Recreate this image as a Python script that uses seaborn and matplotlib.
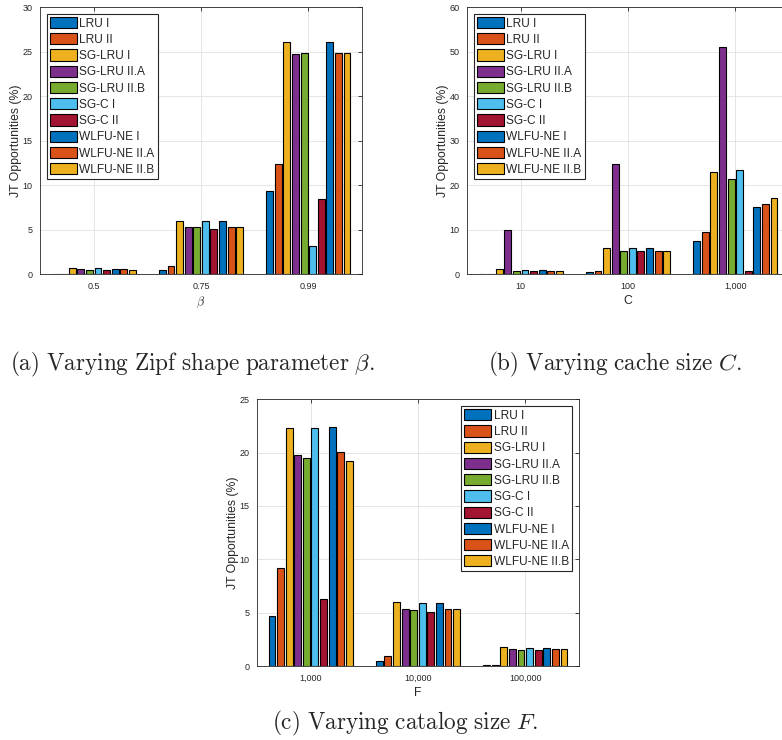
import numpy as np
import pandas as pd
import matplotlib
matplotlib.use("Agg")
import matplotlib.pyplot as plt
from matplotlib.patches import Patch
import seaborn as sns

# Políticas y colores (paleta por defecto de MATLAB, se repite tras 7)
politicas = ["LRU I", "LRU II", "SG-LRU I", "SG-LRU II.A", "SG-LRU II.B",
             "SG-C I", "SG-C II", "WLFU-NE I", "WLFU-NE II.A", "WLFU-NE II.B"]
colores = ["#0072BD", "#D95319", "#EDB120", "#7E2F8E", "#77AC30",
           "#4DBEEE", "#A2142F", "#0072BD", "#D95319", "#EDB120"]

# (a) parámetro Zipf beta
beta_labels = ["0.5", "0.75", "0.99"]
beta_05 = [0.03, 0.03, 0.7, 0.6, 0.5, 0.7, 0.5, 0.6, 0.55, 0.5]
beta_075 = [0.45, 0.9, 6.0, 5.3, 5.3, 5.95, 5.1, 5.95, 5.3, 5.3]
beta_099 = [9.4, 12.4, 26.1, 24.8, 24.9, 3.2, 8.5, 26.1, 24.9, 24.9]

# (b) tamaño de caché C
c_labels = ["10", "100", "1,000"]
c_10 = [0.03, 0.05, 1.1, 9.9, 0.75, 1.05, 0.85, 1.05, 0.85, 0.75]
c_100 = [0.45, 0.85, 6.0, 24.9, 5.3, 6.0, 5.2, 6.0, 5.35, 5.35]
c_1000 = [7.4, 9.4, 23.1, 51.0, 21.5, 23.35, 0.85, 15.1, 15.7, 17.1]

# (c) tamaño de catálogo F
f_labels = ["1,000", "10,000", "100,000"]
f_1000 = [4.65, 9.15, 22.35, 19.8, 19.5, 22.3, 6.25, 22.4, 20.1, 19.2]
f_10000 = [0.45, 0.9, 5.97, 5.3, 5.28, 5.95, 5.1, 5.95, 5.3, 5.3]
f_100000 = [0.05, 0.08, 1.75, 1.55, 1.5, 1.7, 1.5, 1.65, 1.55, 1.55]

sns.set_style("white")
plt.rcParams["font.family"] = ["Liberation Sans", "DejaVu Sans"]
plt.rcParams["mathtext.fontset"] = "cm"

gris = "0.15"


def grafico_barras(ax, etiquetas, valores, ymax, paso, xlabel, loc, pos):
    """Dibuja un grupo de barras estilo MATLAB."""
    df = pd.DataFrame({
        "grupo": np.repeat(etiquetas, len(politicas)),
        "politica": politicas * len(etiquetas),
        "valor": np.concatenate(valores),
    })
    sns.barplot(data=df, x="grupo", y="valor", hue="politica",
                order=etiquetas, hue_order=politicas, palette=colores,
                width=0.8, gap=0.2, saturation=1, errorbar=None,
                edgecolor="black", linewidth=0.8, legend=False, ax=ax)

    ax.set_xlim(-0.5, 2.5)
    ax.set_ylim(0, ymax)
    ax.set_yticks(np.arange(0, ymax + 1, paso))
    ax.grid(True, color="0.88", linewidth=0.6)
    ax.set_axisbelow(True)
    ax.tick_params(direction="in", length=3, width=0.6, top=True, right=True,
                   labelsize=6.5, colors=gris, pad=5.3)
    for s in ax.spines.values():
        s.set_visible(True)
        s.set_color(gris)
        s.set_linewidth(0.6)

    ax.set_xlabel(xlabel, fontsize=8.8, color=gris, labelpad=3)
    ax.set_ylabel("JT Opportunities (%)", fontsize=8.8, color=gris, labelpad=0.5)

    handles = [Patch(facecolor=c, edgecolor="black", linewidth=0.8) for c in colores]
    leg = ax.legend(handles, politicas, loc=loc, bbox_to_anchor=pos,
                    borderaxespad=0, fontsize=8.6, handlelength=2.23,
                    handleheight=1.06, handletextpad=0.22, labelspacing=0.3,
                    borderpad=0.25, frameon=True, fancybox=False,
                    edgecolor=gris, framealpha=1)
    leg.get_frame().set_linewidth(0.8)


fig = plt.figure(figsize=(7.82, 7.40), dpi=100)

ax_a = fig.add_axes([0.0512, 0.6293, 0.4118, 0.3608])
ax_b = fig.add_axes([0.5972, 0.6293, 0.4118, 0.3608])
ax_c = fig.add_axes([0.3286, 0.1, 0.4118, 0.3604])

grafico_barras(ax_a, beta_labels, [beta_05, beta_075, beta_099], 30, 5,
               r"$\beta$", "upper left", (0.022, 0.975))
grafico_barras(ax_b, c_labels, [c_10, c_100, c_1000], 60, 10,
               "C", "upper left", (0.022, 0.975))
grafico_barras(ax_c, f_labels, [f_1000, f_10000, f_100000], 25, 5,
               "F", "upper right", (0.978, 0.974))

# Subtítulos tipo LaTeX
fig.text(192 / 782, 1 - 364 / 740,
         r"$\mathrm{(a)\ Varying\ Zipf\ shape\ parameter}\ \beta.$",
         fontsize=16.7, ha="center", va="center")
fig.text(615 / 782, 1 - 364 / 740,
         r"$\mathrm{(b)\ Varying\ cache\ size}\ C.$",
         fontsize=16.7, ha="center", va="center")
fig.text(405 / 782, 1 - 723 / 740,
         r"$\mathrm{(c)\ Varying\ catalog\ size}\ F.$",
         fontsize=16.7, ha="center", va="center")

fig.savefig("out.png", dpi=100)
